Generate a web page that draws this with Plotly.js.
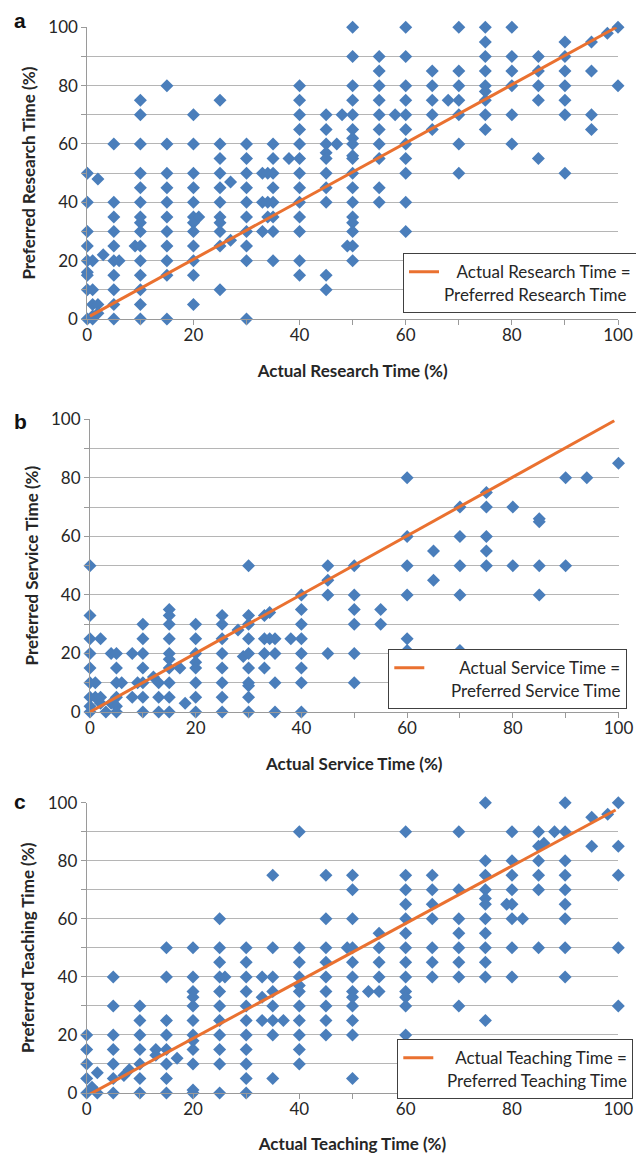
<!DOCTYPE html>
<html>
<head>
<meta charset="utf-8">
<script src="https://cdn.plot.ly/plotly-3.0.1.min.js"></script>
<style>html,body{margin:0;padding:0;background:#fff;}#chart{width:636px;height:1154px;}</style>
</head>
<body>
<div id="chart"></div>
<script>
// ---- Data ----
// Panel a: Research. Each actual-time column with its preferred-time values.
const researchActual = [0,1,2,3,5,6,9,10,15,20,21,25,27,30,33,34,35,38,40,45,47,48,49,50,55,58,60,65,68,70,75,80,85,90,95,98,100];
const researchPreferred = [
  [50,40,30,25,20,16,15,10,0],
  [20,10,5,1,0],
  [48,5,2],
  [22],
  [60,40,35,30,25,20,15,10,5,0],
  [20],
  [25],
  [75,70,60,50,45,40,35,33,30,25,20,15,10,5,0],
  [80,60,50,45,40,35,30,25,20,15,0],
  [70,60,50,45,40,35,33,30,25,20,15,5],
  [35],
  [75,60,55,50,45,40,35,33,30,25,10],
  [47,27],
  [60,55,50,45,40,35,30,25,20,0],
  [50,40,30],
  [50,40,35],
  [60,55,50,45,40,35,30,20],
  [55],
  [80,75,70,65,60,55,50,45,40,35,30,20,15],
  [70,65,60,57,55,50,45,40,15,10],
  [60],
  [70],
  [25],
  [100,90,80,75,70,65,62,60,56,55,50,45,40,35,33,30,25,20],
  [90,85,80,75,70,65,60,55,45,40],
  [70],
  [100,90,80,75,70,65,60,55,50,40,30],
  [85,80,75,70,65],
  [75],
  [100,85,80,75,70,60,50],
  [100,95,90,85,80,78,75,70,65],
  [100,90,85,80,70,60],
  [90,85,80,75,55],
  [95,90,85,80,75,70,50],
  [95,85,70,65],
  [98],
  [100,80]
];
// Panel b: Service
const serviceActual = [0,1,2,3,4,5,6,8,9,10,12,13,15,17,18,20,25,28,29,30,33,34,35,38,40,45,50,55,60,65,70,75,80,85,90,94,100];
const servicePreferred = [
  [50,33,25,20,15,10,5,2,0],
  [10,5],
  [25,5,3],
  [0],
  [20,3],
  [20,15,10,5,2,0],
  [10],
  [20,5],
  [10],
  [30,25,20,15,10,5,0],
  [12],
  [10,5,0],
  [35,33,30,25,20,18,15,10,5,0],
  [15],
  [3],
  [30,25,20,17,15,10,5,0],
  [33,30,25,20,15,10,5,0],
  [28],
  [19],
  [50,33,30,25,20,15,10,9,5,0],
  [33,25,20,15],
  [34,25],
  [25,20,10,0],
  [25],
  [40,35,30,25,20,15,10,0],
  [50,45,40,20],
  [50,40,35,30,20,10],
  [35,30],
  [80,60,50,40,25,21],
  [55,45],
  [70,60,50,40,21],
  [75,70,60,55,50],
  [70,50],
  [66,65,50,40],
  [80,50],
  [80],
  [85]
];
// Panel c: Teaching
const teachingActual = [0,1,2,5,7,8,10,13,15,17,20,25,26,30,33,35,37,40,45,49,50,53,55,60,65,70,75,79,80,82,85,86,88,90,95,98,100];
const teachingPreferred = [
  [20,15,10,5,0],
  [2],
  [7,0],
  [40,30,20,15,10,5,0],
  [6],
  [8],
  [30,25,20,15,10,5,0],
  [15,13],
  [50,40,25,20,15,10,5,0],
  [12],
  [50,40,35,33,30,25,20,18,15,10,1,0],
  [60,50,45,40,35,30,25,20,15,10,0],
  [40],
  [50,45,40,35,30,25,20,15,10,5,0],
  [40,33,25],
  [75,50,40,35,30,25,20,5],
  [25],
  [90,50,45,40,37,35,30,25,20,15,10],
  [75,60,50,45,40,35,30,25,20],
  [50],
  [75,70,60,50,45,40,35,33,30,25,20,5],
  [35],
  [55,50,45,40,35],
  [90,75,70,65,60,55,50,45,40,35,33,30,20],
  [75,70,65,60,50,45,40],
  [90,70,60,55,50,45,40,30],
  [100,80,75,70,67,65,60,55,50,45,40,25],
  [65],
  [90,80,75,70,65,60,50,40],
  [60],
  [90,85,80,75,70,50],
  [86],
  [90],
  [100,90,80,75,70,65,60,50,40],
  [95,85],
  [96],
  [100,85,75,50,30]
];
// Reference ("Actual = Preferred") lines, end points
const researchLineX = [0.5, 99.7], researchLineY = [1, 100];
const serviceLineX = [0, 99.2], serviceLineY = [0, 99.5];
const teachingLineX = [0, 99.5], teachingLineY = [-1, 97.5];

const tickVals = [0,10,20,30,40,50,60,70,80,90,100];
const tickText = ['0','','20','','40','','60','','80','','100'];

const panelLetters = ['a','b','c'];
const xTitles = ['Actual Research Time (%)','Actual Service Time (%)','Actual Teaching Time (%)'];
const yTitles = ['Preferred Research Time (%)','Preferred Service Time (%)','Preferred Teaching Time (%)'];
const legendLine1 = ['Actual Research Time =','Actual Service Time =','Actual Teaching Time ='];
const legendLine2 = ['Preferred Research Time','Preferred Service Time','Preferred Teaching Time'];

// ---- Build traces ----
function flatten(actual, preferred){
  const xs=[], ys=[];
  actual.forEach((a,i)=>preferred[i].forEach(p=>{xs.push(a); ys.push(p);}));
  return {xs, ys};
}
const nb = k => '\u00a0'.repeat(k);
const W=636, H=1154;
const blue='#4a7ebb', orange='#ea7130';
const FONT='Lato, "Open Sans", sans-serif';
const sets=[
  {d:flatten(researchActual,researchPreferred), lx:researchLineX, ly:researchLineY},
  {d:flatten(serviceActual,servicePreferred), lx:serviceLineX, ly:serviceLineY},
  {d:flatten(teachingActual,teachingPreferred), lx:teachingLineX, ly:teachingLineY}
];
// pixel geometry of the three plot areas [left,right,top,bottom]
const boxes=[[87.3,618,27.3,319],[90,618.5,419.3,712],[86.7,618.3,802.7,1093]];
const legendBoxes=[[403,253.3],[388.3,649.3],[397.3,1039.3]];
const padL1=[3,7,4], padL2=[0,5,2];

const traces=[], layout={
  width:W, height:H, margin:{l:0,r:0,t:0,b:0,autoexpand:false},
  paper_bgcolor:'#fff', plot_bgcolor:'#fff', showlegend:true,
  font:{family:FONT, color:'#262626', size:17},
  annotations:[]
};
sets.forEach((s,i)=>{
  const n=i===0?'':String(i+1);
  const xa='x'+n, ya='y'+n;
  traces.push({type:'scatter', mode:'markers', x:s.d.xs, y:s.d.ys, xaxis:xa, yaxis:ya,
    marker:{symbol:'diamond', size:10, color:blue}, showlegend:false, cliponaxis:false, hoverinfo:'x+y'});
  traces.push({type:'scatter', mode:'lines', x:s.lx, y:s.ly, xaxis:xa, yaxis:ya,
    line:{color:orange, width:3}, cliponaxis:false,
    name:nb(padL1[i])+legendLine1[i]+'<br>'+nb(padL2[i])+legendLine2[i],
    legend:'legend'+n, showlegend:true});
  const b=boxes[i];
  layout['xaxis'+n]={domain:[b[0]/W,b[1]/W], range:[0,100], anchor:ya,
    showgrid:false, zeroline:false, showline:true, linecolor:'#9a9a9a', linewidth:1,
    ticks:'outside', ticklen:5, tickcolor:'#9a9a9a', tickvals:tickVals, ticktext:tickText,
    tickfont:{size:17,family:FONT,color:'#262626'}, ticklabelstandoff:-4,
    title:{text:xTitles[i], font:{size:17,family:FONT,weight:'bold',color:'#262626'}, standoff:20}};
  layout['yaxis'+n]={domain:[1-b[3]/H,1-b[2]/H], range:[0,100], anchor:xa,
    showgrid:true, gridcolor:'#b5b5b5', gridwidth:1, zeroline:false, showline:true, linecolor:'#9a9a9a', linewidth:1,
    ticks:'outside', ticklen:5, tickcolor:'#9a9a9a', tickvals:tickVals, ticktext:tickText,
    tickfont:{size:17,family:FONT,color:'#262626'},
    title:{text:yTitles[i], font:{size:17,family:FONT,weight:'bold',color:'#262626'}, standoff:8}};
  const lb=legendBoxes[i];
  layout['legend'+n]={x:lb[0]/W, y:1-lb[1]/H, xanchor:'left', yanchor:'top',
    bgcolor:'#fff', bordercolor:'#404040', borderwidth:1, valign:'top',
    font:{size:17,family:FONT,color:'#262626'}, itemwidth:30};
  layout.annotations.push({text:'<b>'+panelLetters[i]+'</b>', xref:'paper', yref:'paper',
    x:20/W, y:1-[21,421,801.5][i]/H, xanchor:'center', yanchor:'middle', showarrow:false,
    font:{size:21,family:'Liberation Sans, Arial, sans-serif',color:'#111'}});
});
Plotly.newPlot('chart', traces, layout, {displayModeBar:false, staticPlot:true});
</script>
</body>
</html>
